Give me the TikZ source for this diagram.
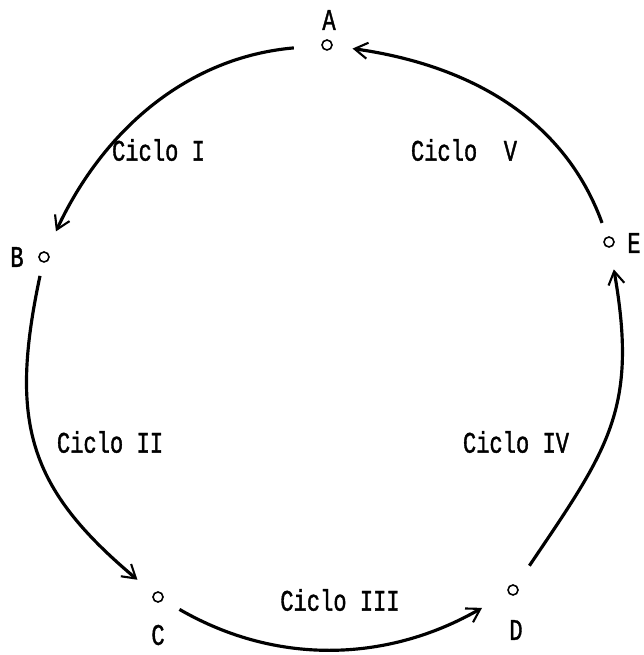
\documentclass[tikz,border=0pt]{standalone}
\usepackage{fontspec}
\newfontfamily\lettering[FakeStretch=0.74, FakeBold=1.2]{Liberation Mono}
\usepackage{tikz}
\usetikzlibrary{arrows.meta}

\begin{document}
\begin{tikzpicture}[
  station/.style={circle, draw, line width=0.9pt, inner sep=0pt, minimum size=2mm},
  cycarrow/.style={line width=1.8pt, -{Straight Barb[length=2.6mm,width=3.2mm,line width=1.2pt]}},
  lbl/.style={font=\lettering\fontsize{17}{20}\selectfont, inner sep=0pt}]
  \useasboundingbox (0,0) rectangle (12.88,13.1);
  % stations and their letters
  \foreach \n/\x/\y/\lx/\ly in {
    A/6.54/12.20/6.58/12.70,
    B/0.88/7.96/0.34/7.96,
    C/3.16/1.16/3.16/0.40,
    D/10.26/1.30/10.32/0.50,
    E/12.18/8.26/12.68/8.24} {
    \node[station] (\n) at (\x,\y) {};
    \node[lbl] (l\n) at (\lx,\ly) {\n};
  }
  % cycle names
  \node[lbl] (c1) at (3.17,10.10) {Ciclo I};
  \node[lbl] (c2) at (2.20,4.26) {Ciclo II};
  \node[lbl] (c3) at (6.80,1.10) {Ciclo III};
  \node[lbl] (c4) at (10.32,4.26) {Ciclo IV};
  \node[lbl] (c5) at (9.28,10.10) {Ciclo\ \ V};
  % arcs between stations
  \draw[cycarrow, shorten <=5.5mm, shorten >=4.5mm] (A) to[out=185, in=65] (B);
  \draw[cycarrow, shorten <=2.7mm, shorten >=4.2mm] (B) to[out=258, in=140, looseness=1.2] (C);
  \draw[cycarrow, shorten <=3.8mm, shorten >=6mm] (C) to[out=-30, in=210] (D);
  \draw[cycarrow, shorten <=4.7mm, shorten >=4.4mm] (D) to[out=56, in=-80, looseness=1.2] (E);
  \draw[cycarrow, shorten <=2.9mm, shorten >=4mm] (E) to[out=110, in=-8] (A);
\end{tikzpicture}
\end{document}
